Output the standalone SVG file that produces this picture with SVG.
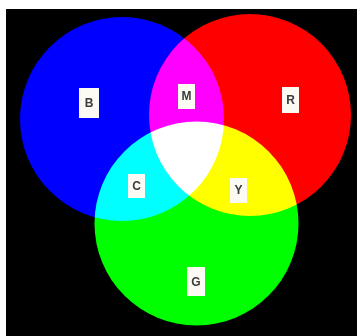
<svg xmlns="http://www.w3.org/2000/svg" width="357" height="336" viewBox="0 0 357 336">
  <style>
    .disc { mix-blend-mode: screen; }
    .tag { fill: #fbfbf4; }
    .lbl { font-family: "Liberation Sans", Arial, sans-serif; font-size: 12px; font-weight: bold; fill: #3a3a3a; text-anchor: middle; dominant-baseline: central; }
  </style>
  <rect x="0" y="0" width="357" height="336" fill="#ffffff"/>
  <rect x="6" y="9" width="351" height="327" fill="#000000"/>
  <g id="circles" style="isolation:isolate">
    <circle id="blue" class="disc" cx="122" cy="119" r="102" fill="#0000ff"/>
    <circle id="red" class="disc" cx="250" cy="115" r="101" fill="#ff0000"/>
    <circle id="green" class="disc" cx="196.5" cy="223.5" r="102" fill="#00ff00"/>
  </g>
  <g id="connectors"></g>
  <g id="label-B"><rect class="tag" x="79" y="88" width="20" height="30"/><text class="lbl" x="89" y="103">B</text></g>
  <g id="label-M"><rect class="tag" x="178" y="84" width="17" height="25"/><text class="lbl" x="186.5" y="96">M</text></g>
  <g id="label-R"><rect class="tag" x="282" y="87" width="17" height="26"/><text class="lbl" x="290.5" y="100">R</text></g>
  <g id="label-C"><rect class="tag" x="128" y="174" width="17" height="24"/><text class="lbl" x="136.5" y="186">C</text></g>
  <g id="label-Y"><rect class="tag" x="230" y="178" width="17" height="25"/><text class="lbl" x="238.5" y="190">Y</text></g>
  <g id="label-G"><rect class="tag" x="187" y="267" width="18" height="29"/><text class="lbl" x="196" y="282">G</text></g>
</svg>
